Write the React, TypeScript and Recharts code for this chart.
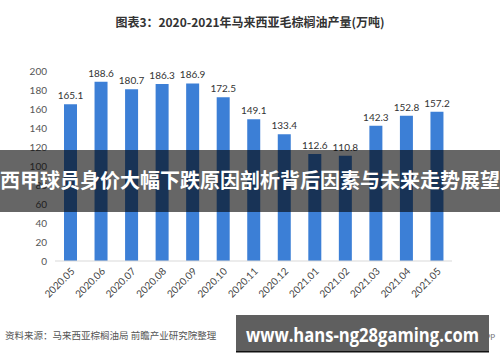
import React from "react";
import { BarChart, Bar, XAxis, YAxis, LabelList } from "recharts";

const months = [
  "2020.05", "2020.06", "2020.07", "2020.08", "2020.09", "2020.10", "2020.11",
  "2020.12", "2021.01", "2021.02", "2021.03", "2021.04", "2021.05",
];
const output = [165.1, 188.6, 180.7, 186.3, 186.9, 172.5, 149.1, 133.4, 112.6, 110.8, 142.3, 152.8, 157.2];
const yTicks = [0, 20, 40, 60, 80, 100, 120, 140, 160, 180, 200];

const title = "图表3：2020-2021年马来西亚毛棕榈油产量(万吨)";
const source = "资料来源：马来西亚棕榈油局 前瞻产业研究院整理";
const banner = "西甲球员身价大幅下跌原因剖析背后因素与未来走势展望";
const site = "www.hans-ng28gaming.com";

const numFont = "Lato, 'Noto Sans', sans-serif";
const cjkFont = "'Noto Sans CJK SC', 'Noto Sans', sans-serif";

const chartData = months.map((m, i) => ({ month: m, value: output[i] }));

function MonthTick(props: any) {
  const { x, y, payload } = props;
  const ax = x + 5;
  const ay = y + 9;
  return (
    <text
      x={ax}
      y={ay}
      transform={`rotate(-45, ${ax}, ${ay})`}
      textAnchor="end"
      fontSize={10}
      fontFamily={numFont}
      fill="#444"
    >
      {payload.value}
    </text>
  );
}

export default function App() {
  return (
    <div style={{ position: "absolute", left: 0, top: 0, width: 500, height: 362, background: "#fff" }}>
      <BarChart
        width={500}
        height={362}
        data={chartData}
        margin={{ top: 71, right: 48, bottom: 61, left: 15 }}
      >
        <XAxis
          dataKey="month"
          height={40}
          interval={0}
          tickLine={false}
          tickSize={0}
          axisLine={{ stroke: "#d9d9d9" }}
          tick={<MonthTick />}
        />
        <YAxis
          width={40}
          domain={[0, 200]}
          ticks={yTicks}
          axisLine={false}
          tickLine={false}
          tick={{ fontSize: 10, fill: "#555", fontFamily: numFont }}
        />
        <Bar dataKey="value" fill="#3c7fd6" barSize={13} isAnimationActive={false}>
          <LabelList
            dataKey="value"
            position="top"
            offset={5}
            style={{ fontSize: 10, fill: "#333", fontFamily: numFont }}
          />
        </Bar>
      </BarChart>

      <svg
        width={500}
        height={362}
        style={{ position: "absolute", left: 0, top: 0, pointerEvents: "none" }}
      >
        <text x={250} y={27} textAnchor="middle" fontSize={12} fontWeight="bold" fontFamily={cjkFont} fill="#333">
          {title}
        </text>

        <rect x={0} y={150} width={500} height={62} fill="#000" fillOpacity={0.6} />
        <text
          x={0}
          y={188}
          fontSize={20}
          fontWeight="bold"
          fontFamily={cjkFont}
          fill="#fff"
          textLength={500}
          lengthAdjust="spacingAndGlyphs"
        >
          {banner}
        </text>

        <text x={5} y={339} fontSize={9.5} fontFamily={cjkFont} fill="#555">
          {source}
        </text>
        <text x={480} y={340} fontSize={8} fontFamily={numFont} fill="#777">
          APP
        </text>
        <rect x={236} y={315} width={253} height={36} fill="#5f5f5f" />
        <rect x={236} y={351} width={253} height={1.5} fill="#111" />
        <text
          x={246}
          y={342}
          fontSize={20}
          fontWeight="bold"
          fontFamily="'Open Sans', 'DejaVu Sans', sans-serif"
          fill="#fff"
          textLength={233}
          lengthAdjust="spacingAndGlyphs"
        >
          {site}
        </text>
      </svg>
    </div>
  );
}
